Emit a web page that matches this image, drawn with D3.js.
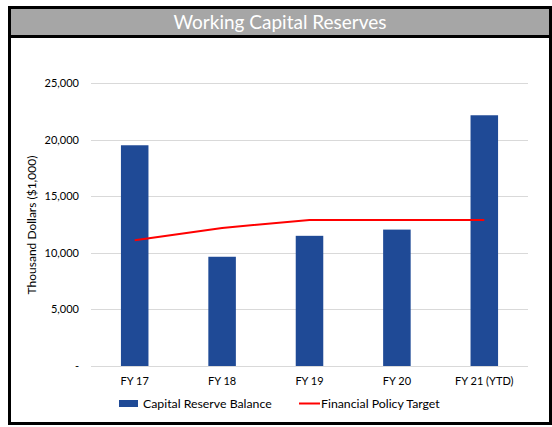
<!DOCTYPE html>
<html><head><meta charset="utf-8">
<script src="https://cdn.jsdelivr.net/npm/d3@7"></script>
<style>body{margin:0;background:#fff}svg{display:block}text{font-family:Lato,"Open Sans",sans-serif}</style>
</head><body><svg id="c" width="552" height="427"></svg>
<script>
const categories = ["FY 17","FY 18","FY 19","FY 20","FY 21 (YTD)"];
const reserveBalance = [19500, 9650, 11500, 12050, 22150];
const policyTarget = [11100, 12200, 12900, 12900, 12900];
const yTicks = [0, 5000, 10000, 15000, 20000, 25000];
const tickLabels = ["-", "5,000", "10,000", "15,000", "20,000", "25,000"];
const title = "Working Capital Reserves";
const yTitle = "Thousand Dollars ($1,000)";
const legendLabels = ["Capital Reserve Balance", "Financial Policy Target"];

const svg = d3.select("#c");
// frame
svg.append("rect").attr("x",9.5).attr("y",7.5).attr("width",541).attr("height",416)
  .attr("fill","#fff").attr("stroke","#000").attr("stroke-width",3);
svg.append("rect").attr("x",11).attr("y",9).attr("width",538).attr("height",26).attr("fill","#a6a6a6");
svg.append("line").attr("x1",9).attr("x2",551).attr("y1",36.5).attr("y2",36.5).attr("stroke","#000").attr("stroke-width",3);
svg.append("text").attr("x",280).attr("y",29).attr("text-anchor","middle").attr("fill","#fff")
  .attr("font-size",19).text(title);

const x = d3.scaleBand().domain(categories).range([91,528]).paddingInner(0.685).paddingOuter(0.3425);
const y = d3.scaleLinear().domain([0,25000]).range([366,83]);

// grid
svg.append("g").selectAll("line").data(yTicks).join("line")
  .attr("x1",91).attr("x2",528).attr("y1",d=>Math.round(y(d))+0.5).attr("y2",d=>Math.round(y(d))+0.5)
  .attr("stroke","#d9d9d9").attr("stroke-width",1);

// y axis labels
const yAxis = d3.axisLeft(y).tickValues(yTicks).tickSize(0).tickPadding(0)
  .tickFormat((d,i)=>tickLabels[i]);
const ga = svg.append("g").attr("transform","translate(79,0)").call(yAxis);
ga.select(".domain").remove();
ga.selectAll("text").attr("font-size",11).attr("fill","#000").attr("font-family","Lato,'Open Sans',sans-serif");

// bars
svg.append("g").selectAll("rect").data(reserveBalance).join("rect")
  .attr("x",(d,i)=>x(categories[i])).attr("width",x.bandwidth())
  .attr("y",d=>y(d)).attr("height",d=>y(0)-y(d)).attr("fill","#1f4a96");

// x axis
const xAxis = d3.axisBottom(x).tickSize(0).tickPadding(0);
const gx = svg.append("g").attr("transform","translate(0,377)").call(xAxis);
gx.select(".domain").remove();
gx.selectAll("text").attr("font-size",11).attr("fill","#000").attr("font-family","Lato,'Open Sans',sans-serif");

// line
const line = d3.line().x((d,i)=>x(categories[i])+x.bandwidth()/2).y(d=>y(d));
svg.append("path").datum(policyTarget).attr("d",line).attr("fill","none")
  .attr("stroke","#ff0000").attr("stroke-width",2);

// y title
svg.append("text").attr("transform","translate(36,225) rotate(-90)").attr("text-anchor","middle")
  .attr("font-size",12).attr("fill","#000").text(yTitle);

// legend
svg.append("rect").attr("x",119).attr("y",400).attr("width",19).attr("height",7).attr("fill","#1f4a96");
svg.append("text").attr("x",143).attr("y",408).attr("font-size",12.3).attr("fill","#000").text(legendLabels[0]);
svg.append("line").attr("x1",299).attr("x2",320).attr("y1",403.5).attr("y2",403.5).attr("stroke","#ff0000").attr("stroke-width",2);
svg.append("text").attr("x",321).attr("y",408).attr("font-size",12.3).attr("fill","#000").text(legendLabels[1]);
</script></body></html>
